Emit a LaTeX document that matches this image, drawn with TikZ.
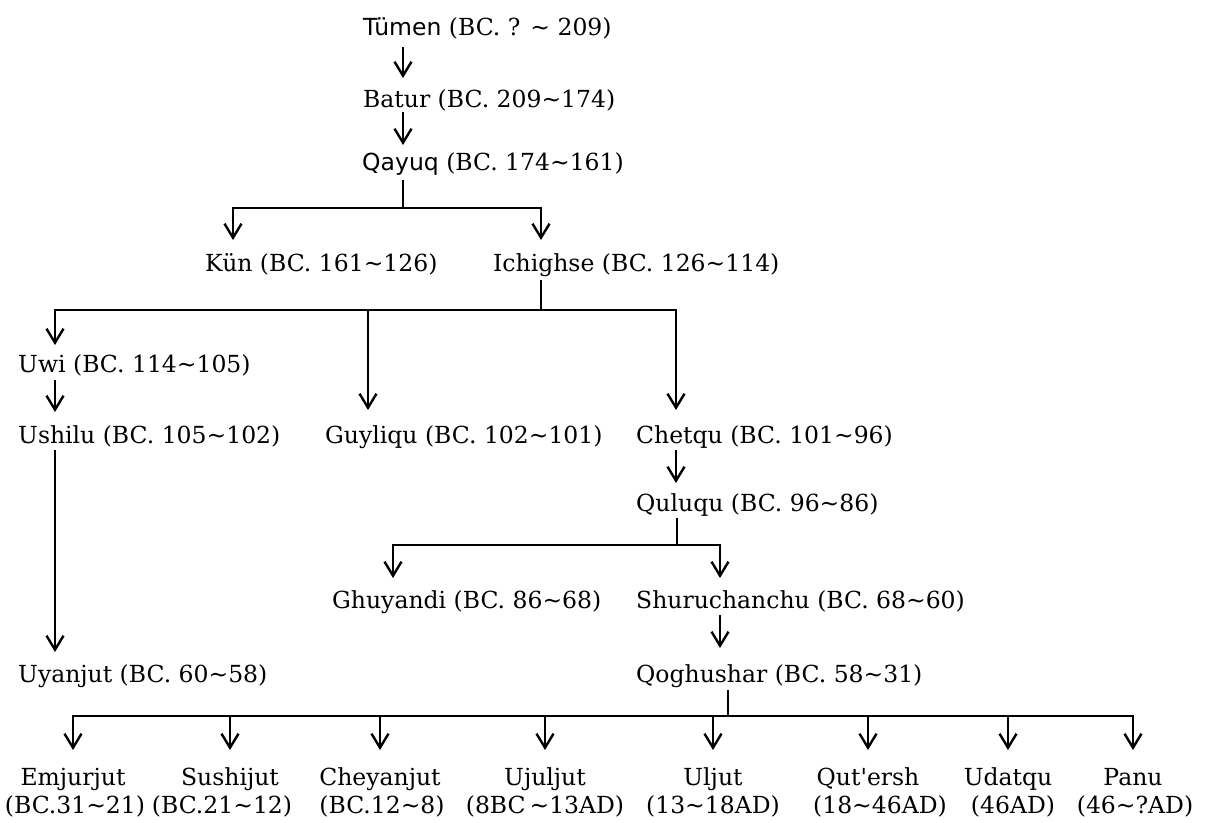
\documentclass[tikz,border=0pt]{standalone}
\usepackage{fontspec}
\setmainfont{DejaVu Serif}
\newfontfamily\sansf{DejaVu Sans}
\usetikzlibrary{arrows.meta}
\newcommand\tld{\textasciitilde}
\begin{document}
\begin{tikzpicture}[x=1pt,y=-1pt,
  lbl/.style={anchor=base west,inner sep=0pt,font=\fontsize{23.5}{28}\selectfont},
  nm/.style={anchor=base,inner sep=0pt,font=\fontsize{23.5}{28}\selectfont},
  arr/.style={line width=2.8pt,line join=miter,-{Straight Barb[length=14pt,width=17pt,line width=2.4pt]}}]
\fill[white] (0,0) rectangle (1207,822);
\useasboundingbox (0,0) rectangle (1207,822);

\node[lbl] (tumen) at (363,35) {{\sansf Tümen} (BC. ? \tld{} 209)};
\node[lbl] (batur) at (363,107) {Batur (BC. 209\tld174)};
\node[lbl] (qayuq) at (362,170) {{\sansf Qayuq} (BC. 174\tld161)};
\node[lbl] (kun) at (205,271) {Kün (BC. 161\tld126)};
\node[lbl] (ich) at (493,271) {Ichighse (BC. 126\tld114)};
\node[lbl] (uwi) at (18,372) {Uwi (BC. 114\tld105)};
\node[lbl] (ushilu) at (18,443) {Ushilu (BC. 105\tld102)};
\node[lbl] (guy) at (325,443) {Guyliqu (BC. 102\tld101)};
\node[lbl] (chet) at (636,443) {Chetqu (BC. 101\tld96)};
\node[lbl] (qul) at (636,511) {Quluqu (BC. 96\tld86)};
\node[lbl] (ghu) at (332,608) {Ghuyandi (BC. 86\tld68)};
\node[lbl] (shu) at (636,608) {Shuruchanchu (BC. 68\tld60)};
\node[lbl] (uya) at (18,682) {Uyanjut (BC. 60\tld58)};
\node[lbl] (qog) at (636,682) {Qoghushar (BC. 58\tld31)};

\node[nm] (b1) at (73,785) {Emjurjut};
\node[nm] (d1) at (75,813) {(BC.31\tld21)};
\node[nm] (b2) at (230,785) {Sushijut};
\node[nm] (d2) at (222,813) {(BC.21\tld12)};
\node[nm] (b3) at (380,785) {Cheyanjut};
\node[nm] (d3) at (382,813) {(BC.12\tld8)};
\node[nm] (b4) at (545,785) {Ujuljut};
\node[nm] (d4) at (545,813) {(8BC\,\tld13AD)};
\node[nm] (b5) at (713,785) {Uljut};
\node[nm] (d5) at (713,813) {(13\tld18AD)};
\node[nm] (b6) at (868,785) {Qut\textquotesingle ersh};
\node[nm] (d6) at (880,813) {(18\tld46AD)};
\node[nm] (b7) at (1008,785) {Udatqu};
\node[nm] (d7) at (1013,813) {(46AD)};
\node[nm] (b8) at (1133,785) {Panu};
\node[nm] (d8) at (1135,813) {(46\tld?AD)};

\draw[arr] ([shift={(40,12)}]tumen.base west) -- ([shift={(40,-29)}]batur.base west);
\draw[arr] ([shift={(40,5)}]batur.base west) -- ([shift={(41,-25)}]qayuq.base west);
\draw[arr] ([shift={(41,10)}]qayuq.base west) |- ([shift={(28,-63)}]kun.base west) -- ([shift={(28,-31)}]kun.base west);
\draw[arr] ([shift={(41,10)}]qayuq.base west) |- ([shift={(48,-63)}]ich.base west) -- ([shift={(48,-31)}]ich.base west);
\draw[arr] ([shift={(48,9)}]ich.base west) |- ([shift={(37,-62)}]uwi.base west) -- ([shift={(37,-27)}]uwi.base west);
\draw[arr] ([shift={(48,9)}]ich.base west) |- ([shift={(43,-133)}]guy.base west) -- ([shift={(43,-33)}]guy.base west);
\draw[arr] ([shift={(48,9)}]ich.base west) |- ([shift={(40,-133)}]chet.base west) -- ([shift={(40,-33)}]chet.base west);
\draw[arr] ([shift={(37,8)}]uwi.base west) -- ([shift={(37,-31)}]ushilu.base west);
\draw[arr] ([shift={(37,7)}]ushilu.base west) -- ([shift={(37,-30)}]uya.base west);
\draw[arr] ([shift={(40,7)}]chet.base west) -- ([shift={(40,-28)}]qul.base west);
\draw[arr] ([shift={(41,7)}]qul.base west) |- ([shift={(61,-63)}]ghu.base west) -- ([shift={(61,-30)}]ghu.base west);
\draw[arr] ([shift={(41,7)}]qul.base west) |- ([shift={(84,-63)}]shu.base west) -- ([shift={(84,-30)}]shu.base west);
\draw[arr] ([shift={(84,7)}]shu.base west) -- ([shift={(84,-34)}]qog.base west);
\foreach \b in {b1,b2,b3,b4,b5,b6,b7,b8}
  \draw[arr] ([shift={(92,8)}]qog.base west) |- ([shift={(0,-69)}]\b.base) -- ([shift={(0,-35)}]\b.base);
\end{tikzpicture}
\end{document}
